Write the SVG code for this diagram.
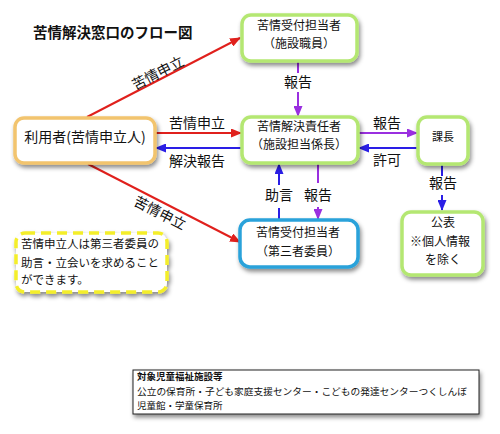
<svg xmlns="http://www.w3.org/2000/svg" width="500" height="434" viewBox="0 0 500 434">
<defs>
<filter id="sh" x="-20%" y="-20%" width="140%" height="150%">
<feDropShadow dx="1.5" dy="3" stdDeviation="2" flood-color="#000" flood-opacity="0.45"/>
</filter>
<marker id="mr" markerUnits="userSpaceOnUse" markerWidth="11" markerHeight="9" refX="10" refY="4.5" orient="auto"><path d="M0,0 L11,4.5 L0,9 z" fill="#e0201c"/></marker>
<marker id="mp" markerUnits="userSpaceOnUse" markerWidth="11" markerHeight="9" refX="10" refY="4.5" orient="auto"><path d="M0,0 L11,4.5 L0,9 z" fill="#9a2fe0"/></marker>
<marker id="mb" markerUnits="userSpaceOnUse" markerWidth="11" markerHeight="9" refX="10" refY="4.5" orient="auto"><path d="M0,0 L11,4.5 L0,9 z" fill="#2a1ee6"/></marker>
</defs>
<style>
text{font-family:"Noto Sans CJK JP","Noto Sans",sans-serif;fill:#111}
.t{font-family:"Liberation Serif","Noto Sans CJK JP",serif;font-weight:bold;font-size:14.5px}
.n{font-size:12px;text-anchor:middle}
.l{font-size:14px;text-anchor:middle}
.box{fill:#fff;stroke-width:3.5;filter:url(#sh)}
.g{stroke:#b4e772}
.o{stroke:#f2c46e}
.b{stroke:#2aa2da}
.y{fill:#fff;stroke:#f4ee2a;stroke-width:3.5;stroke-dasharray:10,6;filter:url(#sh)}
.red{stroke:#e0201c;stroke-width:2;fill:none}
.pur{stroke:#9a2fe0;stroke-width:2;fill:none}
.blu{stroke:#2a1ee6;stroke-width:2;fill:none}
.s{font-size:11.5px}
.f{font-size:9.5px}
</style>
<text class="t" x="33" y="38">苦情解決窓口のフロー図</text>

<g id="connectors">
<line class="red" x1="87" y1="117" x2="240" y2="38" marker-end="url(#mr)"/>
<line class="red" x1="155" y1="133" x2="241" y2="133" marker-end="url(#mr)"/>
<line class="red" x1="88" y1="164" x2="240" y2="242" marker-end="url(#mr)"/>
<line class="blu" x1="242" y1="148" x2="156" y2="148" marker-end="url(#mb)"/>
<line class="pur" x1="298" y1="62" x2="298" y2="73"/>
<line class="pur" x1="298" y1="92" x2="298" y2="116" marker-end="url(#mp)"/>
<line class="pur" x1="358" y1="133" x2="417" y2="133" marker-end="url(#mp)"/>
<line class="blu" x1="418" y1="148" x2="359" y2="148" marker-end="url(#mb)"/>
<line class="blu" x1="442" y1="165" x2="442" y2="176"/>
<line class="blu" x1="442" y1="195" x2="442" y2="210" marker-end="url(#mb)"/>
<line class="blu" x1="279" y1="220" x2="279" y2="208"/>
<line class="blu" x1="279" y1="185" x2="279" y2="164" marker-end="url(#mb)"/>
<line class="pur" x1="318" y1="163" x2="318" y2="183"/>
<line class="pur" x1="318" y1="207" x2="318" y2="219" marker-end="url(#mp)"/>
<text class="l" transform="translate(158,73) rotate(-27)" y="5">苦情申立</text>
<text class="l" transform="translate(160,213) rotate(27)" y="5">苦情申立</text>
<text class="l" x="197" y="128">苦情申立</text>
<text class="l" x="197" y="166">解決報告</text>
<text class="l" x="298" y="87">報告</text>
<text class="l" x="387" y="128">報告</text>
<text class="l" x="387" y="165">許可</text>
<text class="l" x="443" y="188">報告</text>
<text class="l" x="279" y="200">助言</text>
<text class="l" x="318" y="200">報告</text>
</g>

<g id="node-top">
<rect class="box g" x="242" y="15" width="115" height="46" rx="9"/>
<text class="n" x="299" y="30">苦情受付担当者</text>
<text class="n" x="299" y="48">（施設職員）</text>
</g>
<g id="node-user">
<rect class="box o" x="15" y="118" width="140" height="45" rx="9"/>
<text class="l" x="85" y="142">利用者(苦情申立人)</text>
</g>
<g id="node-resp">
<rect class="box g" x="242" y="117" width="116" height="46" rx="9"/>
<text class="n" x="299" y="131">苦情解決責任者</text>
<text class="n" x="299" y="149">（施設担当係長）</text>
</g>
<g id="node-kacho">
<rect class="box g" x="418" y="117" width="50" height="47" rx="9"/>
<text class="n" x="443" y="141" style="font-size:11px">課長</text>
</g>
<g id="node-third">
<rect class="box b" x="240" y="220" width="118" height="47" rx="10"/>
<text class="n" x="298" y="237">苦情受付担当者</text>
<text class="n" x="298" y="256">（第三者委員）</text>
</g>
<g id="node-public">
<rect class="box g" x="402" y="212" width="81" height="63" rx="9"/>
<text class="n" x="443" y="227">公表</text>
<text class="n" x="440" y="246">※個人情報</text>
<text class="n" x="443" y="264">を除く</text>
</g>
<g id="note">
<rect class="y" x="16" y="233" width="151" height="59" rx="9"/>
<text class="s" x="21" y="248">苦情申立人は第三者委員の</text>
<text class="s" x="21" y="267">助言・立会いを求めること</text>
<text class="s" x="21" y="284">ができます。</text>
</g>
<g id="facilities">
<rect x="133" y="370" width="346" height="44" fill="#fff" stroke="#222" stroke-width="1" filter="url(#sh)"/>
<text class="f" x="137" y="380" font-weight="bold">対象児童福祉施設等</text>
<text class="f" x="137" y="395" textLength="330" lengthAdjust="spacingAndGlyphs">公立の保育所・子ども家庭支援センター・こどもの発達センターつくしんぼ</text>
<text class="f" x="137" y="409">児童館・学童保育所</text>
</g>
</svg>
